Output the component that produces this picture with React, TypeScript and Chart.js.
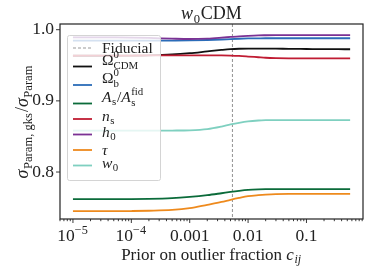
import React, { useEffect, useRef } from "react";
import { Chart, registerables } from "chart.js";
Chart.register(...registerables);

// ---------- data ----------
const priorValues = [1e-5, 2e-5, 5e-5, 1e-4, 2e-4, 5e-4, 1e-3, 2e-3, 3.5e-3, 5e-3, 7e-3, 1e-2, 1.5e-2, 2e-2, 3e-2, 5e-2, 0.1, 0.2, 0.35, 0.56];
const omegaCDM = [0.9634, 0.9634, 0.9634, 0.9636, 0.964, 0.9652, 0.967, 0.9695, 0.9715, 0.9726, 0.9732, 0.9735, 0.9735, 0.9734, 0.9733, 0.9731, 0.9729, 0.9727, 0.9726, 0.9725];
const omegaB = [0.9846, 0.9846, 0.9846, 0.9846, 0.9846, 0.9847, 0.9849, 0.9855, 0.9862, 0.9868, 0.9873, 0.9877, 0.9879, 0.988, 0.988, 0.988, 0.988, 0.988, 0.988, 0.988];
const amplitudeAs = [0.762, 0.762, 0.762, 0.762, 0.7622, 0.7632, 0.765, 0.7675, 0.7702, 0.772, 0.7735, 0.7748, 0.7756, 0.7759, 0.776, 0.776, 0.776, 0.776, 0.776, 0.776];
const spectralNs = [0.9634, 0.9635, 0.9636, 0.9637, 0.9638, 0.9639, 0.964, 0.964, 0.9639, 0.9636, 0.9631, 0.9623, 0.9613, 0.9606, 0.9601, 0.9598, 0.9597, 0.9596, 0.9596, 0.9596];
const hubbleH0 = [0.9892, 0.9892, 0.9891, 0.9889, 0.9884, 0.9874, 0.9869, 0.9875, 0.9888, 0.9898, 0.9907, 0.9914, 0.992, 0.9922, 0.9924, 0.9925, 0.9925, 0.9925, 0.9925, 0.9925];
const opticalTau = [0.745, 0.745, 0.745, 0.7452, 0.7456, 0.7467, 0.7492, 0.754, 0.758, 0.761, 0.7636, 0.766, 0.7675, 0.7683, 0.769, 0.7692, 0.7692, 0.7692, 0.7692, 0.7692];
const darkEnergyW0 = [0.8582, 0.8582, 0.8582, 0.8582, 0.8582, 0.8583, 0.8586, 0.8602, 0.8638, 0.8668, 0.8692, 0.8712, 0.8724, 0.8728, 0.873, 0.873, 0.873, 0.873, 0.873, 0.873];

const fiducialPrior = 0.0054;
const xRange = [6e-6, 0.93];
const yRange = [0.734, 1.008];

const xTickValues = [1e-5, 1e-4, 1e-3, 1e-2, 0.1];
const xTickLabels = [
  [{ t: "10", sup: "\u22125" }],
  [{ t: "10", sup: "\u22124" }],
  [{ t: "0.001" }],
  [{ t: "0.01" }],
  [{ t: "0.1" }],
];
const yTickValues = [0.8, 0.9, 1.0];
const yTickLabels = ["0.8", "0.9", "1.0"];

type Seg = { t: string; it?: boolean; sup?: string; sub?: string; subIt?: boolean };

const seriesValues = [omegaCDM, omegaB, amplitudeAs, spectralNs, hubbleH0, opticalTau, darkEnergyW0];
const seriesColors = ["#111111", "#2b6cb8", "#0b6b3a", "#c01c33", "#7b3294", "#ee8a1d", "#7fd0c0"];
const seriesNames = ["Omega_CDM", "Omega_b", "A_s/A_s^fid", "n_s", "h_0", "tau", "w_0"];
const fiducialLabel: Seg[] = [{ t: "Fiducial" }];
const seriesLabels: Seg[][] = [
  [{ t: "\u03A9", sup: "0", sub: "CDM" }],
  [{ t: "\u03A9", sup: "0", sub: "b" }],
  [{ t: "A", it: true, sub: "s" }, { t: "/" }, { t: "A", it: true, sup: "fid", sub: "s" }],
  [{ t: "n", it: true, sub: "s" }],
  [{ t: "h", it: true, sub: "0" }],
  [{ t: "\u03C4", it: true }],
  [{ t: "w", it: true, sub: "0" }],
];
const titleText: Seg[] = [{ t: "w", it: true, sub: "0" }, { t: "CDM" }];
const yAxisTitle: Seg[] = [{ t: "\u03C3", it: true, sub: "Param, gks" }, { t: "/" }, { t: "\u03C3", it: true, sub: "Param" }];
const xAxisTitle: Seg[] = [{ t: "Prior on outlier fraction " }, { t: "c", it: true, sub: "ij", subIt: true }];

// ---------- rich text helper ----------
const FAMILY = '"Liberation Serif", "DejaVu Serif", serif';
function fnt(size: number, it?: boolean) {
  return `${it ? "italic " : ""}${size}px ${FAMILY}`;
}
function richWidth(ctx: CanvasRenderingContext2D, segs: Seg[], fs: number) {
  let w = 0;
  for (const s of segs) {
    ctx.font = fnt(fs, s.it);
    w += ctx.measureText(s.t).width + (s.it && (s.sub || s.sup) ? fs * 0.03 : 0);
    let sw = 0;
    if (s.sup) { ctx.font = fnt(fs * 0.7, false); sw = Math.max(sw, ctx.measureText(s.sup).width); }
    if (s.sub) { ctx.font = fnt(fs * 0.7, s.subIt); sw = Math.max(sw, ctx.measureText(s.sub).width); }
    w += sw + (sw ? fs * 0.05 : 0);
  }
  return w;
}
function drawRich(ctx: CanvasRenderingContext2D, segs: Seg[], x: number, y: number, fs: number, align: "left" | "center" | "right", color: string) {
  const w = richWidth(ctx, segs, fs);
  let cx = align === "left" ? x : align === "center" ? x - w / 2 : x - w;
  ctx.save();
  ctx.fillStyle = color;
  ctx.textAlign = "left";
  ctx.textBaseline = "alphabetic";
  for (const s of segs) {
    ctx.font = fnt(fs, s.it);
    ctx.fillText(s.t, cx, y);
    cx += ctx.measureText(s.t).width + (s.it && (s.sub || s.sup) ? fs * 0.03 : 0);
    let sw = 0;
    const both = !!(s.sup && s.sub);
    if (s.sup) {
      ctx.font = fnt(fs * 0.7, false);
      ctx.fillText(s.sup, cx, y - fs * 0.42);
      sw = Math.max(sw, ctx.measureText(s.sup).width);
    }
    if (s.sub) {
      ctx.font = fnt(fs * 0.7, s.subIt);
      ctx.fillText(s.sub, cx, y + fs * (both ? 0.26 : 0.2));
      sw = Math.max(sw, ctx.measureText(s.sub).width);
    }
    cx += sw + (sw ? fs * 0.05 : 0);
  }
  ctx.restore();
}

// ---------- decoration plugin ----------
const decor = {
  id: "decor",
  beforeDatasetsDraw(chart: any) {
    const { ctx, chartArea: a, scales } = chart;
    const xp = scales.x.getPixelForValue(fiducialPrior);
    ctx.save();
    ctx.strokeStyle = "#9a9a9a";
    ctx.lineWidth = 1.1;
    ctx.setLineDash([3, 2]);
    ctx.beginPath();
    ctx.moveTo(xp, a.top);
    ctx.lineTo(xp, a.bottom);
    ctx.stroke();
    ctx.restore();
  },
  afterDatasetsDraw(chart: any) {
    const { ctx, chartArea: a } = chart;
    const lx = a.left + 7, ly = a.top + 11, lw = 93, lh = 145;
    ctx.save();
    ctx.fillStyle = "rgba(255,255,255,0.8)";
    ctx.strokeStyle = "#d4d4d4";
    ctx.lineWidth = 1;
    ctx.beginPath();
    (ctx as any).roundRect(lx + 0.5, ly + 0.5, lw, lh, 2);
    ctx.fill();
    ctx.stroke();
    const hx0 = lx + 6, hx1 = lx + 25, tx = lx + 35;
    const entries: { label: Seg[]; color: string; dashed: boolean }[] = [
      { label: fiducialLabel, color: "#9a9a9a", dashed: true },
      ...seriesLabels.map((l, i) => ({ label: l, color: seriesColors[i], dashed: false })),
    ];
    let rowY = ly + 13;
    entries.forEach((e, i) => {
      const hasSup = e.label.some((s) => s.sup);
      const hasSub = e.label.some((s) => s.sub);
      if (i > 0) rowY += 15.5 + (hasSup ? 3 : 0);
      ctx.save();
      ctx.strokeStyle = e.color;
      ctx.lineWidth = e.dashed ? 1.1 : 1.8;
      ctx.setLineDash(e.dashed ? [3, 2] : []);
      ctx.beginPath();
      ctx.moveTo(hx0, rowY);
      ctx.lineTo(hx1, rowY);
      ctx.stroke();
      ctx.restore();
      const off = 5 - (hasSub ? 3 : 0) - (hasSup ? 4 : 0);
      drawRich(ctx, e.label, tx, rowY + off, 15.5, "left", "#222");
    });
    ctx.restore();
  },
  afterDraw(chart: any) {
    const { ctx, chartArea: a, scales } = chart;
    ctx.save();
    ctx.strokeStyle = "#222";
    ctx.lineWidth = 1.2;
    ctx.strokeRect(a.left, a.top, a.right - a.left, a.bottom - a.top);
    ctx.lineWidth = 0.9;
    const xs = scales.x;
    for (let e = -6; e <= 0; e++) {
      for (let m = 1; m <= 9; m++) {
        const v = m * Math.pow(10, e);
        if (v < xRange[0] || v > xRange[1]) continue;
        const p = xs.getPixelForValue(v);
        const len = m === 1 ? 4 : 2.2;
        ctx.beginPath();
        ctx.moveTo(p, a.bottom);
        ctx.lineTo(p, a.bottom + len);
        ctx.stroke();
      }
    }
    xTickValues.forEach((v, i) => {
      const p = xs.getPixelForValue(v);
      drawRich(ctx, xTickLabels[i] as Seg[], p, a.bottom + 22, 17.5, "center", "#222");
    });
    const ys = scales.y;
    yTickValues.forEach((v) => {
      const p = ys.getPixelForValue(v);
      ctx.beginPath();
      ctx.moveTo(a.left, p);
      ctx.lineTo(a.left - 4, p);
      ctx.stroke();
    });
    drawRich(ctx, titleText, (a.left + a.right) / 2, 19, 18, "center", "#222");
    drawRich(ctx, xAxisTitle, (a.left + a.right) / 2, 260, 17, "center", "#222");
    ctx.save();
    ctx.translate(28, (a.top + a.bottom) / 2);
    ctx.rotate(-Math.PI / 2);
    drawRich(ctx, yAxisTitle, 0, 0, 18, "center", "#222");
    ctx.restore();
    ctx.restore();
  },
};

export default function App() {
  const ref = useRef<HTMLCanvasElement | null>(null);
  useEffect(() => {
    if (!ref.current) return;
    const n = seriesValues.length;
    const chart = new Chart(ref.current, {
      type: "line",
      data: {
        datasets: seriesValues.map((vals, i) => ({
          label: seriesNames[i],
          data: priorValues.map((x, j) => ({ x, y: vals[j] })),
          borderColor: seriesColors[i],
          backgroundColor: seriesColors[i],
          borderWidth: 1.8,
          pointRadius: 0,
          fill: false,
          cubicInterpolationMode: "monotone" as const,
          order: n - i,
        })),
      },
      options: {
        responsive: false,
        animation: false,
        devicePixelRatio: 1,
        layout: { padding: { left: 0, top: 24, right: 11, bottom: 0 } },
        plugins: { legend: { display: false }, tooltip: { enabled: false }, title: { display: false } },
        scales: {
          x: {
            type: "logarithmic",
            min: xRange[0],
            max: xRange[1],
            grid: { display: false, drawTicks: false },
            border: { display: false },
            ticks: { display: false },
            afterBuildTicks: (s: any) => { s.ticks = xTickValues.map((v) => ({ value: v })); },
            afterFit: (s: any) => { s.height = 54; },
          },
          y: {
            type: "linear",
            min: yRange[0],
            max: yRange[1],
            grid: { display: false, drawTicks: false },
            border: { display: false },
            ticks: {
              padding: 6,
              color: "#222",
              font: { family: FAMILY, size: 17.5 },
              callback: (v: any) => {
                const k = yTickValues.findIndex((t) => Math.abs(t - Number(v)) < 1e-9);
                return k >= 0 ? yTickLabels[k] : "";
              },
            },
            afterBuildTicks: (s: any) => { s.ticks = yTickValues.map((v) => ({ value: v })); },
            afterFit: (s: any) => { s.width = 60; },
          },
        },
      },
      plugins: [decor],
    });
    return () => chart.destroy();
  }, []);
  return (
    <div style={{ position: "absolute", left: 0, top: 0, width: 374, height: 273, background: "#fff" }}>
      <canvas ref={ref} width={374} height={273} />
    </div>
  );
}
